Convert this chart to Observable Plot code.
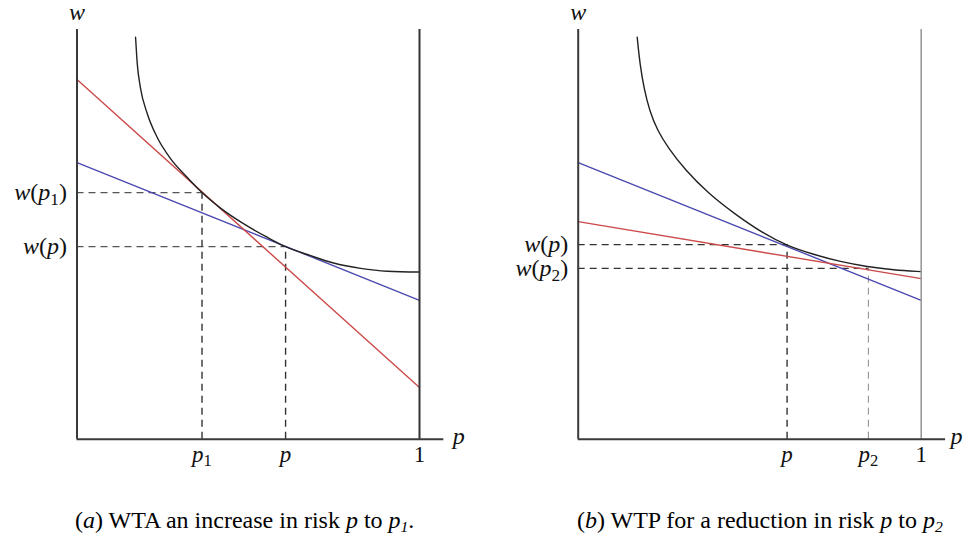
<!DOCTYPE html>
<html>
<head>
<meta charset="utf-8">
<script src="https://cdn.jsdelivr.net/npm/d3@7"></script>
<script src="https://cdn.jsdelivr.net/npm/@observablehq/plot@0.6"></script>
<style>
  html, body { margin: 0; padding: 0; background: #fff; }
  #page { position: relative; width: 965px; height: 538px; overflow: hidden; background: #fff; }
  .panel { position: absolute; top: 0; }
  .cap { position: absolute; font-family: "Liberation Serif", "DejaVu Serif", serif; font-size: 24px; line-height: 1; white-space: nowrap; color: #000; }
  .cap sub { font-size: 65%; vertical-align: -0.25em; line-height: 0; }
</style>
</head>
<body>
<div id="page">
  <div class="panel" id="left" style="left:0px"></div>
  <div class="panel" id="right" style="left:480px"></div>
  <div class="cap" style="left:75px; top:508px">(<i>a</i>) WTA an increase in risk <i>p</i> to <i>p<sub>1</sub></i>.</div>
  <div class="cap" style="left:577px; top:508px">(<i>b</i>) WTP for a reduction in risk <i>p</i> to <i>p<sub>2</sub></i></div>
</div>
<script>
// ---------- data (p on x, w on y; axis domain 0..1 and 0..10) ----------
// Panel (a)
const leftCurveP = [0.171, 0.176, 0.185, 0.205, 0.234, 0.273, 0.322, 0.365, 0.419, 0.486, 0.555, 0.609, 0.682, 0.749, 0.828, 0.906, 1.0];
const leftCurveW = [9.81, 9.16, 8.59, 7.95, 7.37, 6.85, 6.39, 6.02, 5.64, 5.26, 4.93, 4.70, 4.48, 4.30, 4.17, 4.10, 4.08];
const leftRedP = [0, 1];
const leftRedW = [8.78, 1.26];
const leftBlueP = [0, 1];
const leftBlueW = [6.75, 3.39];
const leftGuideP = [0.365, 0.609];          // p1, p
const leftGuideW = [6.02, 4.70];            // w(p1), w(p)
const leftTickLabels = ["p1", "p", "1"];
const leftTickP = [0.365, 0.609, 1];
const leftWLabels = ["w(p1)", "w(p)"];

// Panel (b)
const rightCurveP = [0.172, 0.172, 0.180, 0.192, 0.208, 0.230, 0.263, 0.312, 0.379, 0.459, 0.536, 0.609, 0.686, 0.765, 0.843, 0.919, 1.0, 1.0];
const rightCurveW = [9.81, 9.81, 9.15, 8.55, 8.02, 7.55, 7.10, 6.57, 6.00, 5.48, 5.04, 4.72, 4.51, 4.33, 4.21, 4.13, 4.09, 4.09];
const rightRedP = [0, 1];
const rightRedW = [5.31, 3.92];
const rightBlueP = [0, 1];
const rightBlueW = [6.75, 3.39];
const rightGuideP = [0.609, 0.846];         // p, p2
const rightGuideW = [4.75, 4.17];           // w(p), w(p2)
const rightTickLabels = ["p", "p2", "1"];
const rightTickP = [0.609, 0.846, 1];
const rightWLabels = ["w(p)", "w(p2)"];

const axisEnd = 1.071;
const RED = "#cc4a4a", BLUE = "#4a4ab0", INK = "#222";
const SERIF = "'Liberation Serif', 'DejaVu Serif', serif";

const zip = (ps, ws) => ps.map((p, i) => ({p, w: ws[i]}));

function panel({width, marginLeft, marginRight, curveP, curveW, curveType, redP, redW, blueP, blueW,
                guideP, guideW, guideStyles, tickP, tickLabels, wLabels, rightLine, pLabelDx}) {
  const guides = guideP.map((p, i) => ({p, w: guideW[i], ...guideStyles[i]}));
  const ticks = tickP.map((p, i) => ({p, label: tickLabels[i]}));
  const wl = guideW.map((w, i) => ({w, label: wLabels[i]}));
  return Plot.plot({
    width, height: 480,
    marginLeft, marginRight, marginTop: 29, marginBottom: 41.3,
    x: {domain: [0, 1], axis: null},
    y: {domain: [0, 10], axis: null},
    style: {background: "transparent", overflow: "visible"},
    marks: [
      // dashed guides
      ...guides.map(g => Plot.ruleY([g], {y: "w", x1: 0, x2: "p", stroke: g.hs, strokeWidth: g.hw, strokeDasharray: "7,5"})),
      ...guides.map(g => Plot.ruleX([g], {x: "p", y1: 0, y2: "w", stroke: g.vs, strokeWidth: g.vw, strokeDasharray: "7,5"})),
      // tangent lines
      Plot.line(zip(blueP, blueW), {x: "p", y: "w", stroke: BLUE, strokeWidth: 1.4}),
      Plot.line(zip(redP, redW), {x: "p", y: "w", stroke: RED, strokeWidth: 1.4}),
      // indifference curve
      Plot.line(zip(curveP, curveW), {x: "p", y: "w", curve: curveType, stroke: INK, strokeWidth: 1.4}),
      // axes
      Plot.ruleX([0], {y1: 0, y2: 10, stroke: "#3a3a3a", strokeWidth: 2}),
      Plot.ruleX([1], {y1: 0, y2: 10, stroke: rightLine.stroke, strokeWidth: rightLine.width}),
      Plot.ruleY([0], {x1: 0, x2: axisEnd, stroke: "#3a3a3a", strokeWidth: 2}),
      // labels
      Plot.text(["w"], {x: 0, y: 10, text: d => d, dy: -17, fontSize: 24, fontFamily: SERIF, fill: "#111"}),
      Plot.text(["p"], {x: axisEnd, y: 0, text: d => d, dx: pLabelDx, dy: -3, textAnchor: "start", fontSize: 24, fontFamily: SERIF, fill: "#111"}),
      Plot.text(ticks, {x: "p", y: 0, text: "label", dy: 15, fontSize: 23, fontFamily: SERIF, fill: "#111"}),
      Plot.text(wl, {x: 0, y: "w", text: "label", dx: -10, textAnchor: "end", fontSize: 24, fontFamily: SERIF, fill: "#111"})
    ]
  });
}

// mathematical typesetting: italic letters, upright digits/parens, subscripts after letters
function typeset(svg) {
  svg.querySelectorAll("text").forEach(t => {
    const s = t.textContent;
    if (!/^[wp()0-9]+$/.test(s)) return;
    let html = "", prev = "", shifted = false;
    for (const c of s) {
      if (/[a-z]/.test(c)) {
        html += `<tspan font-style="italic"${shifted ? ' dy="-0.28em"' : ""}>${c}</tspan>`;
        shifted = false;
      } else if (/[0-9]/.test(c) && /[a-z]/.test(prev)) {
        html += `<tspan font-size="72%" dy="0.28em">${c}</tspan>`;
        shifted = true;
      } else {
        html += `<tspan${shifted ? ' dy="-0.2em"' : ""}>${c}</tspan>`;
        shifted = false;
      }
      prev = c;
    }
    t.innerHTML = html;
  });
  return svg;
}

const left = panel({
  width: 480, marginLeft: 76.5, marginRight: 61,
  curveP: leftCurveP, curveW: leftCurveW, curveType: "monotone-x",
  redP: leftRedP, redW: leftRedW, blueP: leftBlueP, blueW: leftBlueW,
  guideP: leftGuideP, guideW: leftGuideW,
  guideStyles: [{hs: "#555", hw: 1.3, vs: "#333", vw: 1.4}, {hs: "#555", hw: 1.3, vs: "#333", vw: 1.4}],
  tickP: leftTickP, tickLabels: leftTickLabels, wLabels: leftWLabels,
  rightLine: {stroke: "#333", width: 2}, pLabelDx: 9
});
const right = panel({
  width: 485, marginLeft: 97.7, marginRight: 44.3,
  curveP: rightCurveP, curveW: rightCurveW, curveType: "basis",
  redP: rightRedP, redW: rightRedW, blueP: rightBlueP, blueW: rightBlueW,
  guideP: rightGuideP, guideW: rightGuideW,
  guideStyles: [{hs: "#333", hw: 1.4, vs: "#333", vw: 1.4}, {hs: "#333", hw: 1.4, vs: "#888", vw: 1}],
  tickP: rightTickP, tickLabels: rightTickLabels, wLabels: rightWLabels,
  rightLine: {stroke: "#999", width: 1.6}, pLabelDx: 5
});
document.getElementById("left").appendChild(typeset(left));
document.getElementById("right").appendChild(typeset(right));
</script>
</body>
</html>
